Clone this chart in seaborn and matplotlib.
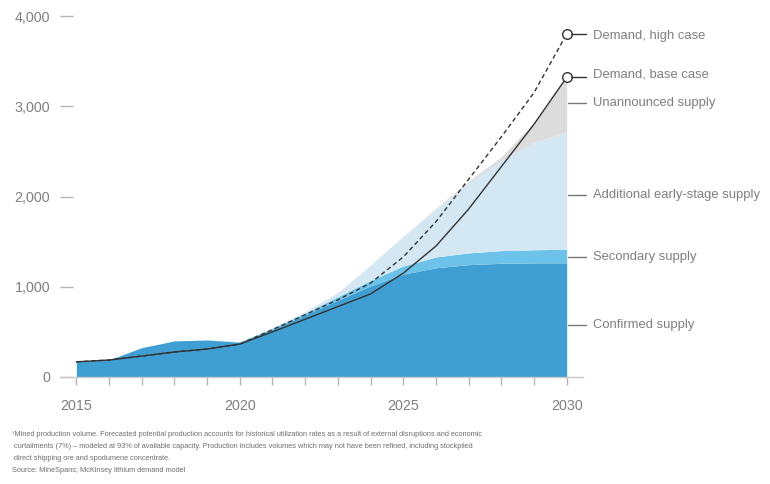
import numpy as np
import pandas as pd
import matplotlib
matplotlib.use("Agg")
import matplotlib.pyplot as plt
import seaborn as sns

# Lithium supply and demand, kilotonnes LCE
years = [2015, 2016, 2017, 2018, 2019, 2020, 2021, 2022, 2023, 2024, 2025, 2026, 2027, 2028, 2029, 2030]

confirmed = [168, 190, 325, 400, 410, 385, 530, 690, 850, 1010, 1140, 1210, 1245, 1260, 1265, 1265]
secondary = [0, 0, 0, 0, 0, 5, 10, 20, 40, 60, 90, 120, 130, 140, 145, 150]
early_stage = [0, 0, 0, 0, 0, 0, 5, 15, 45, 170, 330, 530, 775, 1000, 1190, 1305]
unannounced = [0, 0, 0, 0, 0, 0, 0, 0, 0, 0, 0, 10, 20, 40, 220, 600]

demand_base = [168, 188, 232, 277, 310, 365, 500, 640, 780, 920, 1150, 1450, 1860, 2330, 2800, 3320]
demand_high = [168, 188, 232, 277, 310, 365, 525, 690, 855, 1040, 1330, 1720, 2190, 2660, 3150, 3800]

band_labels = ["Confirmed supply", "Secondary supply",
               "Additional early-stage supply", "Unannounced supply"]
band_colors = ["#3f9fd2", "#6cc2e9", "#d4e8f3", "#dcdcdc"]
demand_labels = ["Demand, high case", "Demand, base case"]

footnote = [
    "\u00b9Mined production volume. Forecasted potential production accounts for historical utilization rates as a result of external disruptions and economic",
    " curtailments (7%) \u2013 modeled at 93% of available capacity. Production includes volumes which may not have been refined, including stockpiled",
    " direct shipping ore and spodumene concentrate.",
    "Source: MineSpans; McKinsey lithium demand model",
]

# vertical placement of the labels (data units)
band_label_y = [576, 1330, 2015, 3034]
demand_label_shift = [-25, 30]

sns.set_theme(style="white")
plt.rcParams["font.family"] = ["Liberation Sans", "DejaVu Sans"]

text_grey = "#7f7f7f"
tick_grey = "#b4b4b4"
line_dark = "#333333"

df = pd.DataFrame({"year": years, "base": demand_base, "high": demand_high})

fig = plt.figure(figsize=(7.7, 4.84), dpi=100)
ax = fig.add_axes([60 / 770, 1 - 377 / 484, (583 - 60) / 770, (377 - 16) / 484])

# stacked supply bands
stack = np.vstack([confirmed, secondary, early_stage, unannounced]).astype(float)
cum = np.cumsum(stack, axis=0)
lower = np.zeros(len(years))
for i, col in enumerate(band_colors):
    ax.fill_between(years, lower, cum[i], color=col, linewidth=0, zorder=1)
    lower = cum[i]

# demand curves
sns.lineplot(data=df, x="year", y="high", ax=ax, color=line_dark, linewidth=1.0,
             linestyle=(0, (3.2, 2.2)), zorder=3)
sns.lineplot(data=df, x="year", y="base", ax=ax, color=line_dark, linewidth=1.0, zorder=3)
ax.scatter([years[-1]] * 2, [demand_high[-1], demand_base[-1]], s=48,
           facecolor="white", edgecolor=line_dark, linewidth=1.0, zorder=4, clip_on=False)

ax.set_xlim(2014.5, 2030.5)
ax.set_ylim(0, 4000)
ax.set_xlabel("")
ax.set_ylabel("")

for s in ["top", "right", "left"]:
    ax.spines[s].set_visible(False)
ax.spines["bottom"].set_color("#c8c8c8")
ax.spines["bottom"].set_linewidth(1.0)

ax.set_xticks(years)
ax.set_xticklabels([str(y) if y % 5 == 0 else "" for y in years])
ax.set_yticks([0, 1000, 2000, 3000, 4000])
ax.set_yticklabels(["0", "1,000", "2,000", "3,000", "4,000"])
ax.tick_params(axis="x", direction="out", length=6, width=1, color=tick_grey,
               labelsize=10.3, labelcolor=text_grey, pad=10, bottom=True)
ax.tick_params(axis="y", direction="in", length=9, width=1, color=tick_grey,
               labelsize=10.3, labelcolor=text_grey, pad=7, left=True)

# right-hand labels
x_txt = 2030.8
label_fs = 9.4
for val, shift, lab in zip([demand_high[-1], demand_base[-1]], demand_label_shift, demand_labels):
    ax.plot([2030.13, 2030.6], [val, val], color=line_dark, linewidth=1.0,
            clip_on=False, zorder=4)
    ax.text(x_txt, val + shift, lab, va="center", ha="left", fontsize=label_fs,
            color=text_grey, clip_on=False)

for yv, lab in zip(band_label_y, band_labels):
    ax.plot([2030.03, 2030.6], [yv, yv], color="#777777", linewidth=1.0,
            clip_on=False, zorder=4)
    ax.text(x_txt, yv, lab, va="center", ha="left", fontsize=label_fs,
            color=text_grey, clip_on=False)

# footnote and source
for i, line in enumerate(footnote):
    fig.text(12 / 770, 1 - (435 + 11.8 * i) / 484, line, fontsize=5.28,
             color="#6f6f6f", va="center", ha="left")

fig.savefig("out.png", dpi=100, facecolor="white")
